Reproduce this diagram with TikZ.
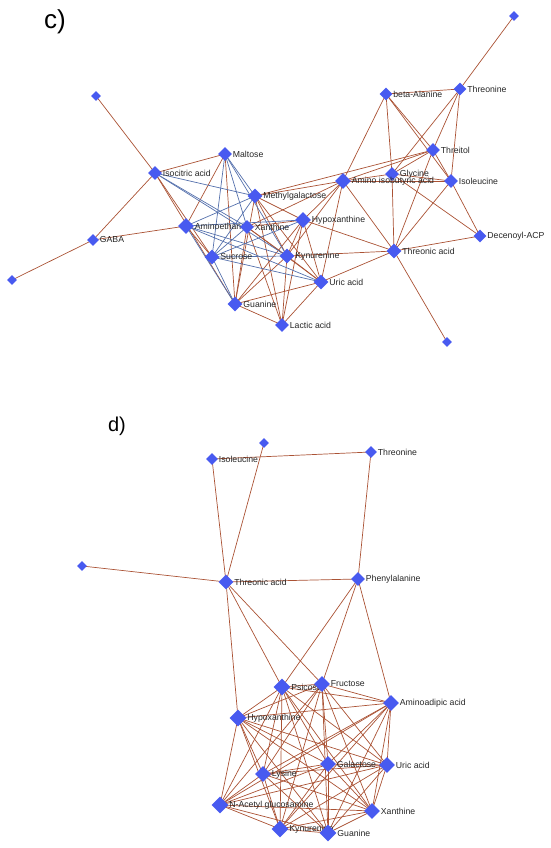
\documentclass[tikz,border=0pt]{standalone}
\usepackage{fontspec}
\setmainfont{Liberation Sans}
\usetikzlibrary{shapes.geometric,backgrounds}
\definecolor{nodeblue}{RGB}{72,90,240}
\definecolor{posedge}{RGB}{170,82,52}
\definecolor{negedge}{RGB}{84,112,172}
\tikzset{
  met/.style={diamond, fill=nodeblue, draw=none, inner sep=0pt, aspect=1, minimum width=#1, minimum height=#1},
  met/.default=14pt,
  lbl/.style={font=\fontsize{8.7}{10}\selectfont, text=black!85, inner sep=0.5pt},
  every label/.style={lbl},
  label distance=0pt,
  pe/.style={draw=posedge, line width=0.7pt},
  ne/.style={draw=negedge, line width=0.7pt},
  panel/.style={font=\fontsize{26}{30}\selectfont, inner sep=0pt}
}
\begin{document}
\begin{tikzpicture}[x=1pt,y=-1pt]
\useasboundingbox (0,0) rectangle (550,848);
\node[panel] (lc) at (55,22) {c)};
\node[panel,font=\fontsize{20}{24}\selectfont] (ld) at (117,426) {d)};
% ---------- panel c nodes
\node[met=10pt] (cU1) at (96,96) {};
\node[met=10pt] (cU2) at (514,16) {};
\node[met=10pt] (cU3) at (12,280) {};
\node[met=10pt] (cU4) at (447,342) {};
\node[met=13pt,label=right:beta-Alanine] (cBA) at (386,94) {};
\node[met=13pt,label=right:Threonine] (cThr) at (460,89) {};
\node[met=14pt,label=right:Maltose] (cMal) at (225,154) {};
\node[met=14pt,label=right:Isocitric acid] (cIso) at (155,173) {};
\node[met=14pt,label=right:Threitol] (cTol) at (433,150) {};
\node[met=14pt,label=right:Glycine] (cGly) at (392,174) {};
\node[met=16pt,label=right:Amino isobutyric acid] (cAib) at (343,181) {};
\node[met=14pt,label=right:Isoleucine] (cIle) at (451,181) {};
\node[met=15pt,label=right:Methylgalactose] (cMgal) at (255,196) {};
\node[met=16pt,label=right:Aminoethanol] (cAe) at (186,226) {};
\node[met=14pt,label=right:Xanthine] (cXan) at (247,227) {};
\node[met=16pt,label=right:Hypoxanthine] (cHyp) at (303,220) {};
\node[met=12pt,label=right:GABA] (cGABA) at (93,240) {};
\node[met=13pt,label=right:Decenoyl-ACP] (cDec) at (480,236) {};
\node[met=15pt,label=right:Threonic acid] (cTna) at (394,251) {};
\node[met=15pt,label=right:Sucrose] (cSuc) at (212,257) {};
\node[met=15pt,label=right:Kynurenine] (cKyn) at (287,256) {};
\node[met=15pt,label=right:Uric acid] (cUric) at (321,282) {};
\node[met=15pt,label=right:Guanine] (cGua) at (235,304) {};
\node[met=14pt,label=right:Lactic acid] (cLac) at (282,325) {};
% ---------- panel d nodes
\node[met=10pt] (dU1) at (264,443) {};
\node[met=10pt] (dU2) at (82,566) {};
\node[met=12pt,label=right:Isoleucine] (dIle) at (212,459) {};
\node[met=12pt,label=right:Threonine] (dThr) at (371,452) {};
\node[met=15pt,label=right:Threonic acid] (dTna) at (226,582) {};
\node[met=14pt,label=right:Phenylalanine] (dPhe) at (358,579) {};
\node[met=17pt,label=right:Psicose] (dPsi) at (282,687) {};
\node[met=16pt,label=right:Fructose] (dFru) at (322,684) {};
\node[met=16pt,label=right:Aminoadipic acid] (dAad) at (391,703) {};
\node[met=17pt,label=right:Hypoxanthine] (dHyp) at (238,718) {};
\node[met=16pt,label=right:Galactose] (dGal) at (328,764) {};
\node[met=16pt,label=right:Uric acid] (dUric) at (387,765) {};
\node[met=16pt,label=right:Lysine] (dLys) at (263,774) {};
\node[met=17pt,label=right:N-Acetyl glucosamine] (dNag) at (220,805) {};
\node[met=16pt,label=right:Xanthine] (dXan) at (372,811) {};
\node[met=17pt,label=right:Kynurenine] (dKyn) at (280,829) {};
\node[met=17pt,label=right:Guanine] (dGua) at (328,833) {};
\begin{scope}[on background layer]
% panel c positive edges
\foreach \a/\b in {cU1/cIso, cIso/cGABA, cGABA/cU3, cGABA/cAe, cIso/cMal, cIso/cSuc, cIso/cGua,
  cMal/cAe, cMal/cGua, cAe/cSuc,
  cMgal/cAib, cMgal/cHyp, cMgal/cKyn, cMgal/cUric, cMgal/cGua, cMgal/cLac, cMgal/cTol,
  cXan/cHyp, cXan/cKyn, cXan/cLac, cXan/cUric, cXan/cGua, cXan/cAib,
  cHyp/cAib, cHyp/cTna, cHyp/cKyn, cHyp/cUric, cHyp/cGua, cHyp/cLac,
  cKyn/cTna, cKyn/cUric, cKyn/cGua, cKyn/cLac, cKyn/cAib,
  cUric/cTna, cUric/cAib, cUric/cGua, cUric/cLac, cGua/cLac,
  cAib/cBA, cAib/cTol, cAib/cGly, cAib/cIle, cAib/cTna,
  cBA/cThr, cBA/cGly, cBA/cTol, cBA/cIle,
  cThr/cU2, cThr/cTol, cThr/cIle, cThr/cGly,
  cTol/cIle, cTol/cTna, cTol/cGly,
  cGly/cIle, cGly/cTna, cGly/cDec,
  cIle/cTna, cIle/cDec, cTna/cDec, cTna/cU4}
  \draw[pe] (\a.center) -- (\b.center);
% panel c negative edges
\foreach \a/\b in {cMal/cMgal, cMal/cXan, cMal/cSuc, cMal/cKyn,
  cIso/cMgal, cIso/cXan, cIso/cKyn,
  cAe/cMgal, cAe/cKyn, cAe/cUric, cAe/cHyp, cAe/cGua,
  cSuc/cMgal, cSuc/cXan, cSuc/cHyp, cSuc/cKyn, cSuc/cGua, cSuc/cUric}
  \draw[ne] (\a.center) -- (\b.center);
% panel d edges
\foreach \a/\b in {dIle/dThr, dIle/dTna, dU1/dTna, dThr/dPhe, dU2/dTna, dTna/dPhe,
  dTna/dHyp, dTna/dPsi, dTna/dFru, dPhe/dPsi, dPhe/dFru, dPhe/dAad}
  \draw[pe] (\a.center) -- (\b.center);
\foreach \a [count=\i] in {dPsi,dFru,dAad,dHyp,dGal,dUric,dLys,dNag,dXan,dKyn,dGua}{
  \foreach \b [count=\j] in {dPsi,dFru,dAad,dHyp,dGal,dUric,dLys,dNag,dXan,dKyn,dGua}{
    \ifnum\j>\i \draw[pe] (\a.center) -- (\b.center); \fi
  }
}
\end{scope}
\end{tikzpicture}
\end{document}
